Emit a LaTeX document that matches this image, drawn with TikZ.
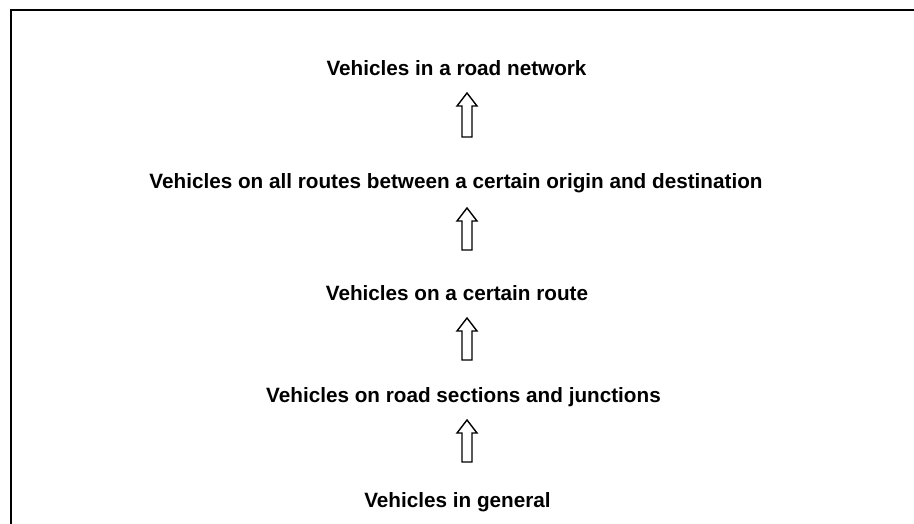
\documentclass[tikz,border=0pt]{standalone}
\usepackage{fontspec}
\setmainfont{Liberation Sans}
\begin{document}
\begin{tikzpicture}[x=1pt,y=-1pt,
  lbl/.style={font=\bfseries\fontsize{20.7}{24}\selectfont, anchor=base, inner sep=0pt},
  uparrow/.style={draw, line width=1.4pt, fill=white, line join=miter}]
\useasboundingbox (0,0) rectangle (914,524);
\draw[line width=2pt] (11,524) -- (11,10) -- (914,10);
\node[lbl] (t5) at (456.5,75.5) {Vehicles in a road network};
\node[lbl] (t4) at (456,188.5) {Vehicles on all routes between a certain origin and destination};
\node[lbl] (t3) at (457,300.5) {Vehicles on a certain route};
\node[lbl] (t2) at (463.5,402.5) {Vehicles on road sections and junctions};
\node[lbl] (t1) at (457.5,507.5) {Vehicles in general};
\foreach \n/\ya/\yb in {a1/93/137, a2/208/250, a3/318/360, a4/420/462}{
  \coordinate (\n) at (467,\ya);
  \draw[uparrow] (\n) -- ++(10,13) -- ++(-5,0) -- (472,\yb) -- (462,\yb) -- (462,\ya+13) -- ++(-5,0) -- cycle;
}
\end{tikzpicture}
\end{document}
